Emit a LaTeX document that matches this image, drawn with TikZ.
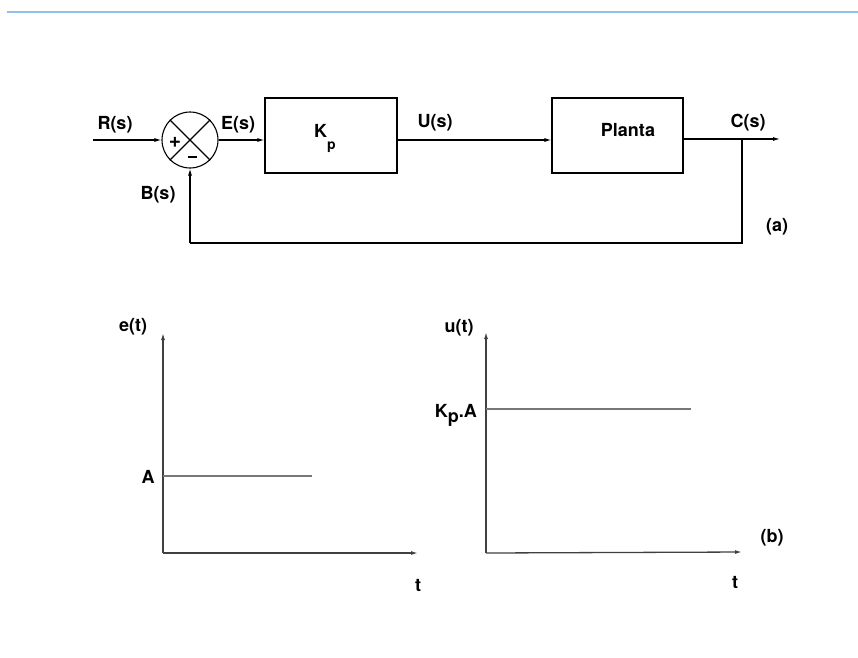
\documentclass[tikz,border=0pt]{standalone}
\usepackage{fontspec}
\setmainfont{TeX Gyre Heros}
\usetikzlibrary{arrows.meta}
\definecolor{rulebl}{HTML}{8FC0EE}
\definecolor{plotgr}{HTML}{777777}

\begin{document}
\begin{tikzpicture}[x=1pt,y=-1pt,
  every node/.style={inner sep=0pt,font=\fontsize{18}{21}\selectfont\bfseries},
  blk/.style={draw,line width=1.1pt,minimum width=#1,minimum height=75pt},
  sig/.style={line width=1.1pt,-{Latex[length=7pt,width=4pt]}},
  line/.style={line width=1.1pt},
  axis/.style={line width=1.3pt,draw=black!75,-{Latex[length=7pt,width=4pt]}},
  level/.style={line width=1.6pt,draw=plotgr}]
\useasboundingbox (0,0) rectangle (858,657);
\draw [rulebl,line width=1.6pt] (7,12) -- (858,12);
% block diagram
\node [draw,circle,line width=1.1pt,minimum size=56pt] (sum) at (190,140) {};
\draw [line width=1.1pt] (sum.north west) -- (sum.south east);
\draw [line width=1.1pt] (sum.north east) -- (sum.south west);
\node [font=\fontsize{21}{24}\selectfont\bfseries] (plus) at (175,142) {+};
\node (minus) at (192,157) {\rule{9pt}{2pt}};
\node [blk=132pt] (kp) at (331,135.5) {};
\node [anchor=base west] (kplabel) at (314,137) {K\raisebox{-12pt}{\fontsize{14}{16}\selectfont p}};
\node [blk=131pt] (planta) at (617.5,135.5) {};
\node (plantalabel) at (628,130) {Planta};
\coordinate (rin) at (93,140);
\coordinate (branch) at (742,139);
\coordinate (cout) at (780,139);
\coordinate (fbl) at (742,243);
\coordinate (fbr) at (190,243);
\draw [sig] (rin) -- (sum.west);
\draw [sig] (sum.east) -- (kp.west|-sum.east);
\draw [sig] (kp.east|-sum.east) -- (planta.west|-sum.east);
\draw [sig] (planta.east|-branch) -- (cout);
\draw [line] (branch) -- (fbl) -- (fbr);
\draw [sig] (fbr) -- (sum.south);
\node (rs) at (115,125) {R(s)};
\node (es) at (238,125) {E(s)};
\node (us) at (435,123) {U(s)};
\node (cs) at (748,123) {C(s)};
\node (bs) at (158,195) {B(s)};
\node (la) at (777,227) {(a)};
% responses
\coordinate (eo) at (163,553);
\coordinate (etop) at (163,333);
\coordinate (eright) at (418,553);
\coordinate (ea) at (163,476);
\coordinate (eaend) at (312,476);
\draw [axis] (eo) -- (etop);
\draw [axis] (eo) -- (eright);
\draw [level] (ea) -- (eaend);
\node (et) at (133,327) {e(t)};
\node (alab) at (148,477) {A};
\node (t1) at (418,585) {t};
\coordinate (uo) at (486,553);
\coordinate (utop) at (486,332);
\coordinate (uright) at (742,552);
\coordinate (ua) at (486,409);
\coordinate (uaend) at (691,409);
\draw [axis] (uo) -- (utop);
\draw [axis] (uo) -- (uright);
\draw [level] (ua) -- (uaend);
\node (ut) at (459,328) {u(t)};
\node [anchor=base east] (kpa) at (477,417) {K\raisebox{-5pt}{p}.A};
\node (t2) at (735,582) {t};
\node (lb) at (772,538) {(b)};
\end{tikzpicture}
\end{document}
